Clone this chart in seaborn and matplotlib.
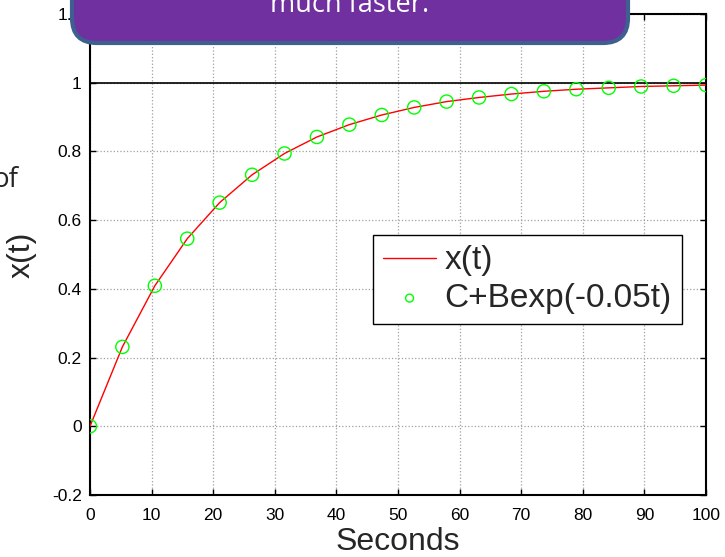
import matplotlib
matplotlib.use("Agg")
import matplotlib.pyplot as plt
from matplotlib.patches import FancyBboxPatch
from matplotlib.transforms import IdentityTransform
import numpy as np
import pandas as pd
import seaborn as sns

# sample times (seconds) and values
t = [0, 5.26, 10.53, 15.79, 21.05, 26.32, 31.58, 36.84, 42.11, 47.37,
     52.63, 57.89, 63.16, 68.42, 73.68, 78.95, 84.21, 89.47, 94.74, 100]
x_t = [0.0, 0.231, 0.409, 0.546, 0.651, 0.732, 0.794, 0.842, 0.878, 0.906,
       0.928, 0.945, 0.957, 0.967, 0.975, 0.981, 0.985, 0.989, 0.991, 0.993]
fit = [0.0, 0.231, 0.409, 0.546, 0.651, 0.732, 0.794, 0.842, 0.878, 0.906,
       0.928, 0.945, 0.957, 0.967, 0.975, 0.981, 0.985, 0.989, 0.991, 0.993]
xticks = [0, 10, 20, 30, 40, 50, 60, 70, 80, 90, 100]
yticks = [-0.2, 0, 0.2, 0.4, 0.6, 0.8, 1, 1.2]
yticklabels = ["-0.2", "0", "0.2", "0.4", "0.6", "0.8", "1", "1.2"]

df = pd.DataFrame({"t": t, "x": x_t, "fit": fit})

sns.set_style("ticks")
plt.rcParams["font.family"] = ["Liberation Sans", "DejaVu Sans"]

fig = plt.figure(figsize=(7.25, 5.57), dpi=100)
ax = fig.add_axes([0.1241, 0.1113, 0.8497, 0.8636])

ax.axhline(1, color="black", lw=1.2, zorder=1)
sns.lineplot(data=df, x="t", y="x", color="red", lw=1, label="x(t)", ax=ax, zorder=3)
sns.scatterplot(data=df, x="t", y="fit", marker="o", s=90, facecolors="none",
                edgecolor="#00ff00", linewidth=1, label="C+Bexp(-0.05t)", ax=ax, zorder=4)

ax.set_xlim(0, 100)
ax.set_ylim(-0.2, 1.2)
ax.set_xticks(xticks)
ax.set_yticks(yticks)
ax.set_yticklabels(yticklabels)
ax.grid(True, color="#a0a0a0", ls=":", lw=0.9)
ax.tick_params(direction="in", length=4, width=1, top=True, right=True,
               labelsize=12.5, colors="black", pad=6)
ax.tick_params(axis="x", pad=9)
for s in ax.spines.values():
    s.set_linewidth(1.5)
    s.set_color("black")

ax.set_xlabel("Seconds", fontsize=23, labelpad=3)
ax.set_ylabel("x(t)", fontsize=23, labelpad=11)

leg = ax.legend(loc="center", bbox_to_anchor=(0.71, 0.448), fontsize=24,
                fancybox=False, framealpha=1, edgecolor="black",
                handlelength=1.6, handletextpad=0.25, labelspacing=0.2,
                borderpad=0.3, markerscale=0.6)
leg.get_frame().set_linewidth(1)

# partial text from the slide on the left
fig.text(18 / 725, 1 - 180 / 557, "of", fontsize=20, ha="right", va="center",
         family=["Open Sans", "DejaVu Sans"])

# purple callout box, cut off at the top of the slide
box = FancyBboxPatch((72 + 25, 557 - 43 + 25), 556 - 50, 100,
                     boxstyle="round,pad=25,rounding_size=25",
                     facecolor="#7030a0", edgecolor="#3e6090", lw=3,
                     transform=IdentityTransform(), zorder=5)
fig.patches.append(box)
fig.text(350 / 725, 1 - 12 / 557, "much faster.", fontsize=19.5, color="white",
         ha="center", va="baseline", family=["Open Sans", "DejaVu Sans"], zorder=6)

fig.savefig("out.png", dpi=100)
